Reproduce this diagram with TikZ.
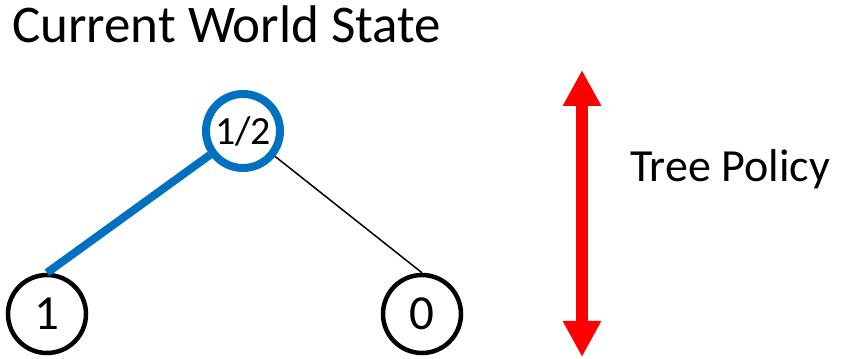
\documentclass[tikz,border=0pt]{standalone}
\usepackage{fontspec}
\setmainfont{Carlito}
\usetikzlibrary{arrows.meta}
\definecolor{treeblue}{RGB}{0,112,192}
\definecolor{policyred}{RGB}{255,0,0}
\tikzset{
  every node/.style={font=\fontsize{46}{55}\selectfont},
  statenode/.style={
    circle,
    draw=black,
    line width=4.5pt,
    minimum size=78pt,
    inner sep=0pt,
    fill=white,
    font=\fontsize{49}{58}\selectfont
  },
  chosennode/.style={statenode,draw=treeblue,line width=8pt,minimum size=74pt,
    font=\fontsize{40}{48}\selectfont},
  branch/.style={draw=black,line width=1.5pt},
  chosenbranch/.style={draw=treeblue,line width=8pt},
  policyarrow/.style={
    draw=policyred,line width=12pt,
    {Triangle[width=36pt,length=36pt]}-{Triangle[width=36pt,length=36pt]}
  }
}

\begin{document}
\begin{tikzpicture}[x=1pt,y=1pt]
  \useasboundingbox (0,0) rectangle (844,359);

  % Titulo e rotulo do lado direito.
  \node[anchor=base west,inner sep=0pt,font=\fontsize{53}{64}\selectfont] (titulo)
    at (12,316) {Current World State};
  \node[anchor=base west,inner sep=0pt] (politica) at (630,177) {Tree Policy};

  % Arvore: raiz e dois filhos.
  \node[chosennode] (raiz) at (243,228) {1/2};
  \node[statenode] (esq) at (47,45) {1};
  \node[statenode] (dir) at (422,45) {0};

  \draw[chosenbranch] (raiz) -- (esq.north);
  \draw[branch] (raiz) -- (dir.north);

  % Seta da politica de arvore.
  \coordinate (seta-topo) at (582,289);
  \coordinate (seta-base) at (582,2);
  \draw[policyarrow] (seta-base) -- (seta-topo);
\end{tikzpicture}
\end{document}
